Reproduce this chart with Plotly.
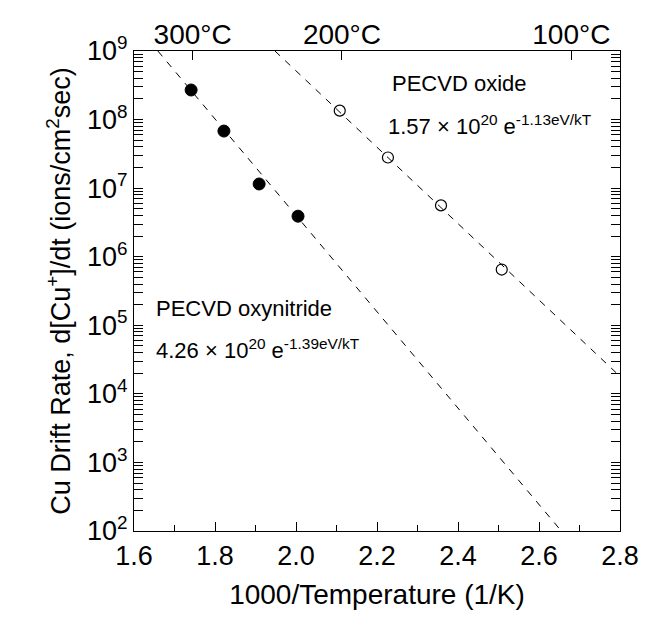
import plotly.graph_objects as go

# ---- data ----
oxynitride_x = [1.741, 1.822, 1.909, 2.005]
oxynitride_y = [2.7e8, 6.8e7, 1.15e7, 3.9e6]

oxide_x = [2.108, 2.227, 2.358, 2.508]
oxide_y = [1.35e8, 2.8e7, 5.6e6, 6.5e5]

# dashed fit lines (end points)
oxynitride_fit_x = [1.659, 2.655]
oxynitride_fit_y = [1e9, 1e2]
oxide_fit_x = [1.948, 2.8]
oxide_fit_y = [1e9, 1.8e4]

temps_C = [300, 200, 100]
temp_labels = ["300°C", "200°C", "100°C"]

x_ticks = [1.6, 1.8, 2.0, 2.2, 2.4, 2.6, 2.8]
x_ticklabels = ["1.6", "1.8", "2.0", "2.2", "2.4", "2.6", "2.8"]
y_exps = [2, 3, 4, 5, 6, 7, 8, 9]

FONT = "Liberation Sans, Arial, Helvetica, sans-serif"

fig = go.Figure()

fig.add_trace(go.Scatter(x=oxynitride_fit_x, y=oxynitride_fit_y, mode="lines",
                         line=dict(color="black", width=1, dash="7px,7px"),
                         showlegend=False, hoverinfo="skip"))
fig.add_trace(go.Scatter(x=oxide_fit_x, y=oxide_fit_y, mode="lines",
                         line=dict(color="black", width=1, dash="7px,7px"),
                         showlegend=False, hoverinfo="skip"))
fig.add_trace(go.Scatter(x=oxynitride_x, y=oxynitride_y, mode="markers",
                         marker=dict(symbol="circle", size=12, color="black",
                                     line=dict(color="black", width=1)),
                         showlegend=False))
fig.add_trace(go.Scatter(x=oxide_x, y=oxide_y, mode="markers",
                         marker=dict(symbol="circle-open", size=11, color="black",
                                     line=dict(color="black", width=1.2)),
                         showlegend=False))
# invisible trace to carry the top axis
top_ticks = [1000.0 / (t + 273.15) for t in temps_C]
fig.add_trace(go.Scatter(x=top_ticks, y=[1e5] * len(top_ticks), xaxis="x2",
                         mode="markers", marker=dict(opacity=0), showlegend=False,
                         hoverinfo="skip"))

y_minor = [k * 10 ** e for e in y_exps[:-1] for k in range(2, 10)]

fig.update_layout(
    width=648, height=619,
    margin=dict(l=126, r=36, t=43, b=96),
    paper_bgcolor="white", plot_bgcolor="white",
    font=dict(family=FONT, color="black", size=27),
    xaxis=dict(
        range=[1.6, 2.8], tickvals=x_ticks, ticktext=x_ticklabels,
        ticks="inside", ticklen=9, tickwidth=1, tickcolor="black",
        minor=dict(dtick=0.1, ticks="inside", ticklen=6, tickcolor="black"),
        showline=True, linecolor="black", linewidth=1.2, mirror=True,
        showgrid=False, zeroline=False,
        tickfont=dict(size=27),
        title=dict(text="1000/Temperature (1/K)", font=dict(size=28), standoff=14),
    ),
    xaxis2=dict(
        range=[1.6, 2.8], overlaying="x", side="top", anchor="y",
        tickvals=top_ticks, ticktext=temp_labels,
        ticks="inside", ticklen=9, tickwidth=1, tickcolor="black",
        showgrid=False, zeroline=False, showline=False,
        tickfont=dict(size=28),
    ),
    yaxis=dict(
        type="log", range=[2, 9],
        tickvals=[10 ** e for e in y_exps],
        ticktext=["10<sup>%d</sup>" % e for e in y_exps],
        ticks="inside", ticklen=9, tickwidth=1, tickcolor="black",
        minor=dict(tickvals=y_minor, ticks="inside", ticklen=5, tickcolor="black"),
        showline=True, linecolor="black", linewidth=1.2, mirror="allticks",
        showgrid=False, zeroline=False,
        tickfont=dict(size=27),
        title=dict(text="Cu Drift Rate, d[Cu<sup>+</sup>]/dt (ions/cm<sup>2</sup>sec)",
                   font=dict(size=27), standoff=8),
    ),
)

fig.add_annotation(x=2.232, y=8.52, xref="x", yref="y", text="PECVD oxide",
                   showarrow=False, xanchor="left", yanchor="middle",
                   font=dict(size=22))
fig.add_annotation(x=2.222, y=7.92, xref="x", yref="y",
                   text="1.57 × 10<sup>20</sup> e<sup>-1.13eV/kT</sup>",
                   showarrow=False, xanchor="left", yanchor="middle",
                   font=dict(size=22))
fig.add_annotation(x=1.650, y=5.24, xref="x", yref="y", text="PECVD oxynitride",
                   showarrow=False, xanchor="left", yanchor="middle",
                   font=dict(size=22))
fig.add_annotation(x=1.650, y=4.66, xref="x", yref="y",
                   text="4.26 × 10<sup>20</sup> e<sup>-1.39eV/kT</sup>",
                   showarrow=False, xanchor="left", yanchor="middle",
                   font=dict(size=22))

fig.write_html("out.html")
